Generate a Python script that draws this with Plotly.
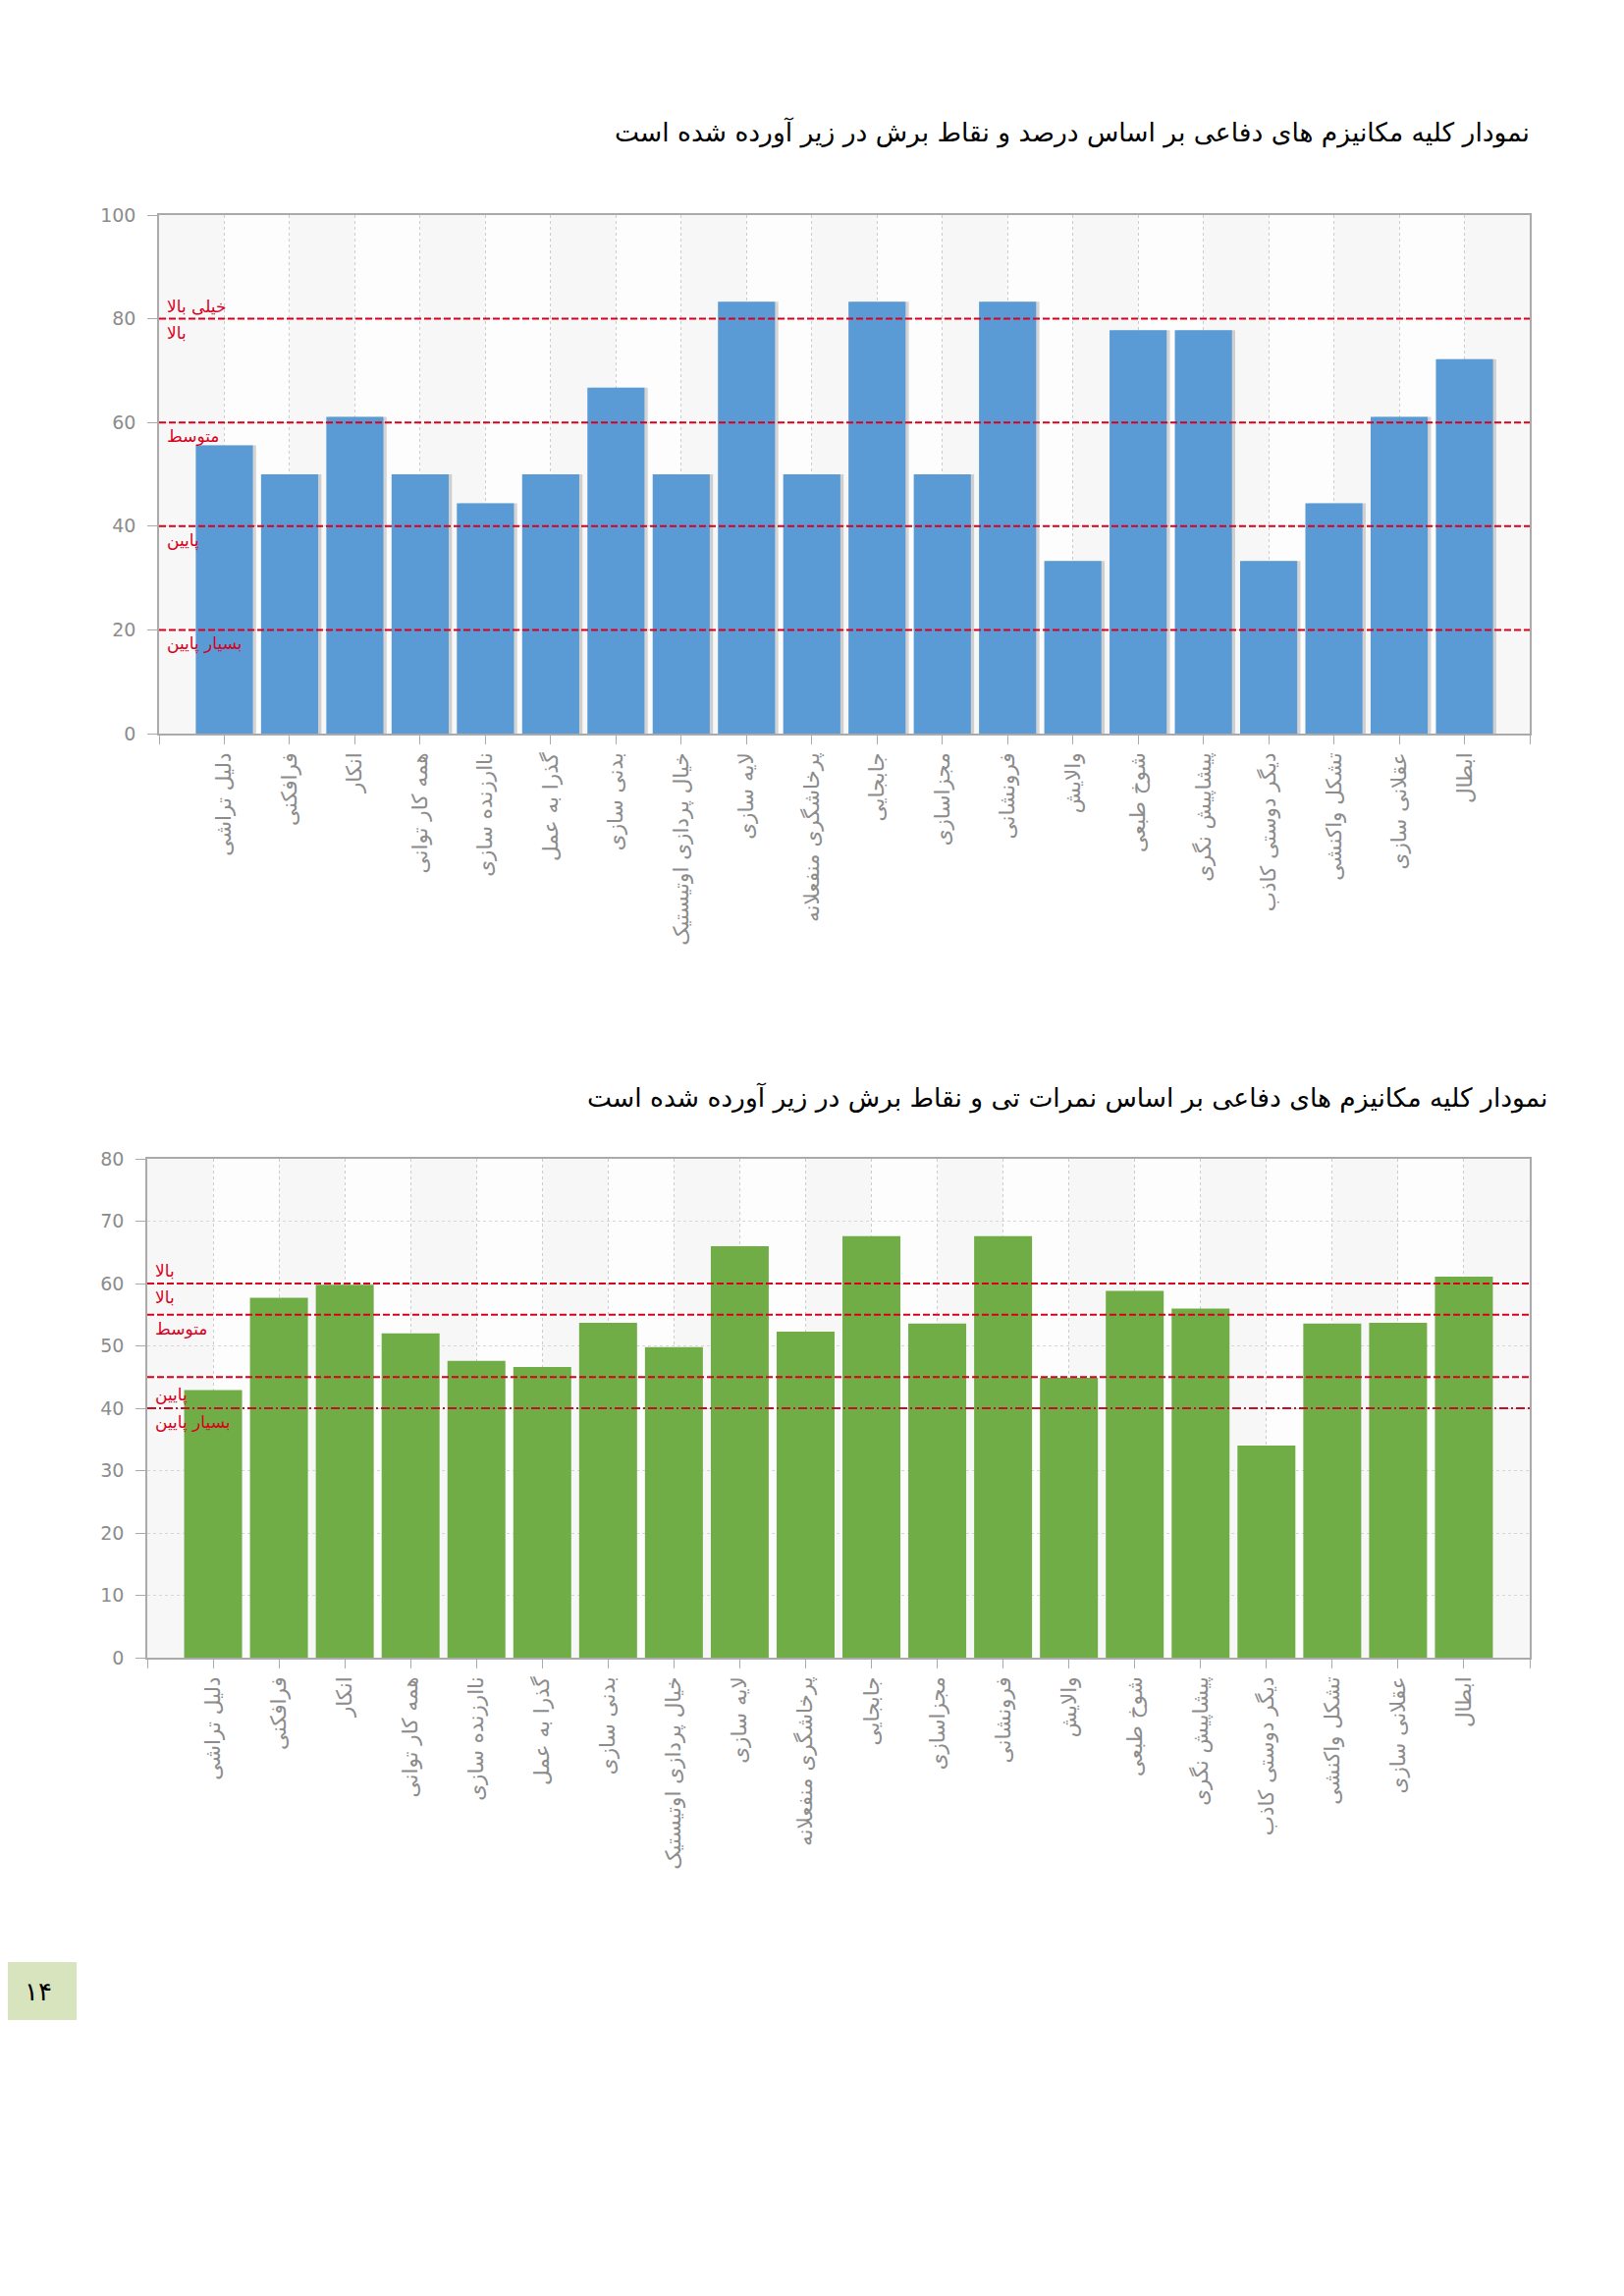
import plotly.graph_objects as go

# defence mechanisms (x categories, same order in both charts)
mechanisms = [
    "دلیل تراشی", "فرافکنی", "انکار", "همه کار توانی", "ناارزنده سازی",
    "گذرا به عمل", "بدنی سازی", "خیال پردازی اوتیستیک", "لایه سازی",
    "پرخاشگری منفعلانه", "جابجایی", "مجزاسازی", "فرونشانی", "والایش",
    "شوخ طبعی", "پیشاپیش نگری", "دیگر دوستی کاذب", "تشکل واکنشی",
    "عقلانی سازی", "ابطال",
]

# chart 1: percent
percent = [55.6, 50.0, 61.1, 50.0, 44.4, 50.0, 66.7, 50.0, 83.3, 50.0,
           83.3, 50.0, 83.3, 33.3, 77.8, 77.8, 33.3, 44.4, 61.1, 72.2]
percent_cuts = [80, 60, 40, 20]
percent_cut_labels = [
    ("خیلی بالا", 80, "above"),
    ("بالا", 80, "below"),
    ("متوسط", 60, "below"),
    ("پایین", 40, "below"),
    ("بسیار پایین", 20, "below"),
]

# chart 2: T scores
tscore = [42.9, 57.7, 59.8, 52.0, 47.6, 46.6, 53.7, 49.8, 66.0, 52.3,
          67.6, 53.6, 67.6, 44.9, 58.8, 56.0, 34.0, 53.6, 53.7, 61.1]
tscore_cuts = [60, 55, 45, 40]
tscore_cut_labels = [
    ("بالا", 60, "above"),
    ("بالا", 60, "below"),
    ("متوسط", 55, "below"),
    ("پایین", 40, "above"),
    ("بسیار پایین", 40, "below"),
]

title_top = "نمودار کلیه مکانیزم های دفاعی بر اساس درصد و نقاط برش در زیر آورده شده است"
title_bottom = "نمودار کلیه مکانیزم های دفاعی بر اساس نمرات تی و نقاط برش در زیر آورده شده است"
page_number = "۱۴"

PAGE_W, PAGE_H = 1654, 2338
OFF = 8  # page body margin
W, H = PAGE_W - 2 * OFF, PAGE_H - 2 * OFF
FONT = "DejaVu Sans"
GREY = "#8c8c8c"
RED = "#d8001c"


def px(x):
    return (x - OFF) / W


def py(y):
    return 1 - (y - OFF) / H


xs = list(range(len(mechanisms)))
tickvals = [-1] + xs + [len(mechanisms)]
ticktext = [""] + mechanisms + [""]

fig = go.Figure()

# chart 1 bars with a soft shadow on the right
fig.add_trace(go.Bar(x=xs, y=percent, width=0.875, offset=-0.4375 + 0.05,
                     marker=dict(color="rgba(0,0,0,0.16)", line_width=0),
                     xaxis="x", yaxis="y", hoverinfo="skip"))
fig.add_trace(go.Bar(x=xs, y=percent, width=0.875, offset=-0.4375,
                     marker=dict(color="#5b9bd5", line_width=0),
                     xaxis="x", yaxis="y"))

# chart 2 bars
fig.add_trace(go.Bar(x=xs, y=tscore, width=0.88, offset=-0.44,
                     marker=dict(color="#70ad47", line_width=0),
                     xaxis="x2", yaxis="y2"))

shapes = []
annotations = []

# alternating column bands
for xa, ya in (("x", "y"), ("x2", "y2")):
    for k in range(-1, len(mechanisms)):
        shapes.append(dict(type="rect", xref=xa, yref=ya + " domain",
                           x0=k, x1=k + 1, y0=0, y1=1, layer="below",
                           line_width=0,
                           fillcolor="#f7f7f7" if (k + 1) % 2 == 0 else "#fdfdfd"))

# cut lines
for v in percent_cuts:
    shapes.append(dict(type="line", xref="x domain", yref="y", x0=0, x1=1,
                       y0=v, y1=v, line=dict(color=RED, width=2, dash="7px,3px")))
for v in tscore_cuts:
    dash = "9px,3px,2px,3px" if v == min(tscore_cuts) else "7px,3px"
    col = "#c0102a" if v == min(tscore_cuts) else RED
    shapes.append(dict(type="line", xref="x2 domain", yref="y2", x0=0, x1=1,
                       y0=v, y1=v, line=dict(color=col, width=2, dash=dash)))

for labels, xa, ya in ((percent_cut_labels, "x", "y"), (tscore_cut_labels, "x2", "y2")):
    for text, v, pos in labels:
        annotations.append(dict(
            text=text, xref=xa + " domain", yref=ya, x=0.004, y=v,
            xanchor="left", yanchor="bottom" if pos == "above" else "top",
            yshift=1 if pos == "above" else -2, showarrow=False,
            font=dict(family=FONT, size=17, color=RED)))

# titles
annotations.append(dict(text=title_top, xref="paper", yref="paper",
                        x=px(1560), y=py(135), xanchor="right", yanchor="middle",
                        showarrow=False, font=dict(family=FONT, size=26.5, color="black")))
annotations.append(dict(text=title_bottom, xref="paper", yref="paper",
                        x=px(1578), y=py(1118), xanchor="right", yanchor="middle",
                        showarrow=False, font=dict(family=FONT, size=26.5, color="black")))

# page number box
shapes.append(dict(type="rect", xref="paper", yref="paper",
                   x0=px(0), x1=px(78), y0=py(2057), y1=py(1998),
                   fillcolor="#d7e4bd", line_width=0))
annotations.append(dict(text=page_number, xref="paper", yref="paper",
                        x=px(39), y=py(2028), xanchor="center", yanchor="middle",
                        showarrow=False, font=dict(family=FONT, size=26, color="black")))

xaxis_common = dict(
    range=[-1, len(mechanisms)], tickmode="array", tickvals=tickvals, ticktext=ticktext,
    tickangle=-90, ticks="outside", ticklen=9, tickcolor="#aaaaaa",
    tickfont=dict(family=FONT, size=21.5, color=GREY),
    showline=True, linecolor="#aaaaaa", linewidth=1.5, mirror=True,
    showgrid=True, gridcolor="#cccccc", griddash="dot", gridwidth=1,
    zeroline=False, automargin=False, fixedrange=True,
)
yaxis_common = dict(
    ticks="outside", ticklen=10, tickcolor="#aaaaaa", ticklabelstandoff=8,
    tickfont=dict(family=FONT, size=19, color=GREY),
    showline=True, linecolor="#aaaaaa", linewidth=1.5, mirror=True,
    showgrid=True, gridcolor="#d6d6d6", griddash="dot", gridwidth=1,
    zeroline=False, automargin=False, fixedrange=True,
)

fig.update_layout(
    width=W, height=H,
    margin=dict(l=0, r=0, t=0, b=0),
    paper_bgcolor="white", plot_bgcolor="white",
    showlegend=False, barmode="overlay",
    xaxis=dict(domain=[px(162), px(1558)], anchor="y", **xaxis_common),
    yaxis=dict(domain=[py(747), py(219)], anchor="x",
               range=[0, 100], dtick=20, **yaxis_common),
    xaxis2=dict(domain=[px(150), px(1558)], anchor="y2", **xaxis_common),
    yaxis2=dict(domain=[py(1688), py(1180)], anchor="x2",
                range=[0, 80], dtick=10, **yaxis_common),
    shapes=shapes,
    annotations=annotations,
)

fig.write_html("out.html")
